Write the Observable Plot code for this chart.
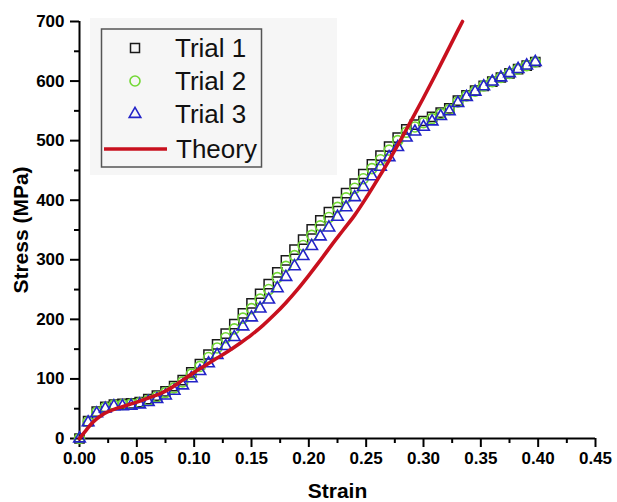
<!DOCTYPE html>
<html>
<head>
<meta charset="utf-8">
<script src="https://cdn.jsdelivr.net/npm/d3@7"></script>
<script src="https://cdn.jsdelivr.net/npm/@observablehq/plot@0.6"></script>
<style>
  html, body { margin: 0; padding: 0; background: white; }
  #wrap { position: relative; width: 617px; height: 502px; overflow: hidden; }
  #legend { position: absolute; left: 0; top: 0; pointer-events: none; }
</style>
</head>
<body>
<div id="wrap"></div>
<script>
// ---- data ----
const strain = [0, 0.0075, 0.015, 0.0225, 0.03, 0.0375, 0.045, 0.0525, 0.06, 0.0675,
  0.075, 0.0825, 0.09, 0.0975, 0.105, 0.1125, 0.12, 0.1275, 0.135, 0.1425,
  0.15, 0.1575, 0.165, 0.1725, 0.18, 0.1875, 0.195, 0.2025, 0.21, 0.2175,
  0.225, 0.2325, 0.24, 0.2475, 0.255, 0.2625, 0.27, 0.2775, 0.285, 0.2925,
  0.30, 0.3075, 0.315, 0.3225, 0.33, 0.3375, 0.345, 0.3525, 0.36, 0.3675,
  0.375, 0.3825, 0.39, 0.3975];
const trial1Stress = [0, 29, 45, 53, 57, 58, 59, 61, 66, 72,
  79, 88, 98, 111, 125, 141, 158, 176, 192, 210,
  227, 243, 259, 279, 299, 317, 334, 351, 366, 380,
  397, 412, 428, 444, 460, 475, 490, 505, 519, 527,
  533, 540, 547, 554, 567, 576, 584, 592, 599, 606,
  613, 620, 626, 632];
const trial2Stress = [0, 28, 44, 52, 56, 57, 58, 60, 64, 70,
  77, 85, 95, 108, 121, 136, 152, 169, 184, 202,
  218, 234, 250, 270, 289, 307, 324, 341, 357, 371,
  388, 404, 420, 436, 453, 468, 484, 500, 514, 523,
  530, 537, 545, 552, 565, 575, 583, 592, 599, 606,
  613, 620, 626, 632];
const trial3Stress = [0, 27, 42, 50, 54, 54, 55, 57, 61, 66,
  72, 80, 89, 101, 113, 126, 140, 155, 170, 188,
  203, 218, 233, 252, 271, 289, 306, 323, 339, 354,
  372, 388, 405, 422, 440, 456, 472, 489, 505, 515,
  523, 532, 541, 549, 563, 573, 582, 591, 599, 606,
  613, 620, 626, 632];
const theoryStrain = [0, 0.005, 0.01, 0.015, 0.02, 0.03, 0.04, 0.05, 0.06, 0.07,
  0.08, 0.09, 0.10, 0.11, 0.12, 0.13, 0.14, 0.15, 0.16, 0.17,
  0.18, 0.19, 0.20, 0.21, 0.22, 0.23, 0.24, 0.25, 0.26, 0.27,
  0.28, 0.29, 0.30, 0.31, 0.32, 0.33, 0.334];
const theoryStress = [0, 12, 24, 33, 40, 49, 55, 61, 68, 75,
  85, 98, 111, 123, 135, 147, 160, 174, 190, 208,
  228, 250, 274, 299, 325, 350, 375, 404, 435, 467,
  501, 536, 572, 609, 647, 685, 700];
const xTicks = [0, 0.05, 0.10, 0.15, 0.20, 0.25, 0.30, 0.35, 0.40, 0.45];
const xMinor = [0.025, 0.075, 0.125, 0.175, 0.225, 0.275, 0.325, 0.375, 0.425];
const yTicks = [0, 100, 200, 300, 400, 500, 600, 700];
const yMinor = [50, 150, 250, 350, 450, 550, 650];
const seriesNames = ["Trial 1", "Trial 2", "Trial 3", "Theory"];
const xTitle = "Strain";
const yTitle = "Stress (MPa)";

// ---- tables ----
const t1 = strain.map((s, i) => ({strain: s, stress: trial1Stress[i]}));
const t2 = strain.map((s, i) => ({strain: s, stress: trial2Stress[i]}));
const t3 = strain.map((s, i) => ({strain: s, stress: trial3Stress[i]}));
const th = theoryStrain.map((s, i) => ({strain: s, stress: theoryStress[i]}));

const BLACK = "#1a1a1a", GREEN = "#72d834", BLUE = "#2323c8", RED = "#c8101e";
const FONT = "'Liberation Sans', Arial, sans-serif";

const chart = Plot.plot({
  width: 617,
  height: 502,
  marginLeft: 79,
  marginRight: 22,
  marginTop: 21,
  marginBottom: 64,
  style: {background: "white", color: "black", fontFamily: FONT},
  x: {domain: [0, 0.45]},
  y: {domain: [0, 700]},
  marks: [
    Plot.axisX(xMinor, {tickSize: 5, strokeWidth: 2, tickFormat: () => "", label: null}),
    Plot.axisX(xTicks, {tickSize: 9, strokeWidth: 2, tickPadding: 4, tickFormat: d3.format(".2f"),
      fontSize: 17, fontWeight: "bold", label: null}),
    Plot.axisY(yMinor, {tickSize: 5, strokeWidth: 2, tickFormat: () => "", label: null}),
    Plot.axisY(yTicks, {tickSize: 9, strokeWidth: 2, tickPadding: 6,
      fontSize: 17, fontWeight: "bold", label: null}),
    Plot.ruleX([0], {strokeWidth: 2}),
    Plot.ruleY([0], {strokeWidth: 2}),
    Plot.dot(t1, {x: "strain", y: "stress", symbol: "square", r: 5.2, stroke: BLACK, strokeWidth: 1.5, fill: "none"}),
    Plot.dot(t2, {x: "strain", y: "stress", symbol: "circle", r: 5, stroke: GREEN, strokeWidth: 1.6, fill: "none"}),
    Plot.dot(t3, {x: "strain", y: "stress", symbol: "triangle", r: 4.3, stroke: BLUE, strokeWidth: 1.6, fill: "none"}),
    Plot.line(th, {x: "strain", y: "stress", stroke: RED, strokeWidth: 3.6, curve: "monotone-x"}),
    Plot.text([xTitle], {text: d => d, frameAnchor: "bottom", lineAnchor: "middle", dy: 53,
      fontSize: 21, fontWeight: "bold"}),
    Plot.text([yTitle], {text: d => d, frameAnchor: "left", textAnchor: "middle", dx: -58, rotate: -90,
      fontSize: 21, fontWeight: "bold"})
  ]
});
document.getElementById("wrap").appendChild(chart);

// ---- legend overlay ----
const leg = d3.select("#wrap").append("svg")
  .attr("id", "legend").attr("width", 617).attr("height", 502);
leg.append("rect").attr("x", 90).attr("y", 18).attr("width", 247).attr("height", 157).attr("fill", "#f6f6f6");
leg.append("rect").attr("x", 101.5).attr("y", 29).attr("width", 160).attr("height", 138)
  .attr("fill", "#f6f6f6").attr("stroke", "#555").attr("stroke-width", 1.5);
const rowY = [48, 81, 114, 149];
// Trial 1 square
leg.append("rect").attr("x", 130.5).attr("y", rowY[0] - 4.5).attr("width", 9).attr("height", 9)
  .attr("fill", "none").attr("stroke", BLACK).attr("stroke-width", 1.5);
// Trial 2 circle
leg.append("circle").attr("cx", 135).attr("cy", rowY[1]).attr("r", 5)
  .attr("fill", "none").attr("stroke", GREEN).attr("stroke-width", 1.6);
// Trial 3 triangle
leg.append("path").attr("d", d3.symbol(d3.symbolTriangle, 4.3 * 4.3 * Math.PI)())
  .attr("transform", `translate(135,${rowY[2]})`)
  .attr("fill", "none").attr("stroke", BLUE).attr("stroke-width", 1.6);
// Theory line
leg.append("line").attr("x1", 104).attr("x2", 167).attr("y1", rowY[3]).attr("y2", rowY[3])
  .attr("stroke", RED).attr("stroke-width", 3.6);
seriesNames.forEach((name, i) => {
  leg.append("text").attr("x", i === 3 ? 176 : 175).attr("y", rowY[i]).attr("dy", "0.36em")
    .attr("font-family", FONT).attr("font-size", 26).attr("fill", "#111").text(name);
});
</script>
</body>
</html>
